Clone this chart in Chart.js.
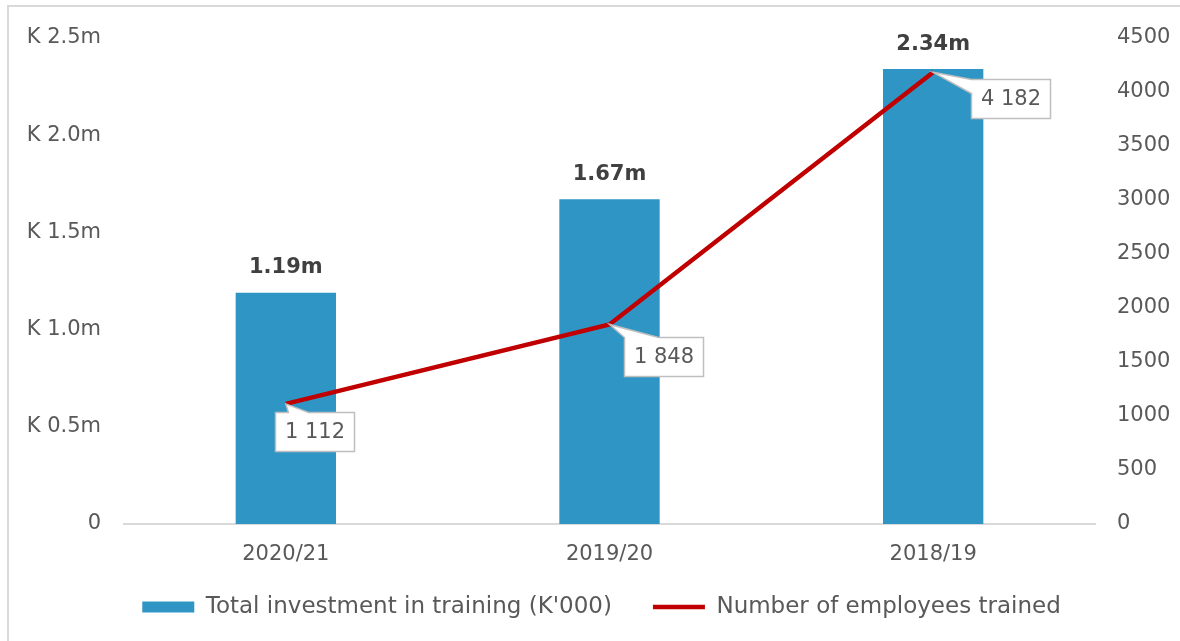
<!DOCTYPE html>
<html>
<head>
<meta charset="utf-8">
<title>Training investment</title>
<script src="https://cdn.jsdelivr.net/npm/chart.js@4.4.1/dist/chart.umd.min.js"></script>
<style>
  html, body { margin: 0; padding: 0; background: #fff; }
</style>
</head>
<body>
<canvas id="myChart" width="1180" height="641"></canvas>
<script>
// data
const years = ['2020/21', '2019/20', '2018/19'];
const investment = [1190, 1670, 2340];   // K'000
const trained = [1112, 1848, 4182];
const moneyTicks = ['0', 'K 0.5m', 'K 1.0m', 'K 1.5m', 'K 2.0m', 'K 2.5m'];

const FONT = "'DejaVu Sans', sans-serif";
const GREY = '#595959';

const fmtSpace = v => String(v).replace(/\B(?=(\d{3})+(?!\d))/g, ' ');

// outer frame (only left + top edges fall inside the canvas)
const framePlugin = {
    id: 'frame',
    beforeDraw(chart) {
        const ctx = chart.ctx;
        ctx.save();
        ctx.fillStyle = '#fff';
        ctx.fillRect(0, 0, chart.width, chart.height);
        ctx.fillStyle = '#d9d9d9';
        ctx.fillRect(7, 5, chart.width - 7, 2);
        ctx.fillRect(7, 5, 2, chart.height - 5);
        ctx.restore();
    }
};

// the wide label padding pushes legend items too low; lift the legend box a bit
const legendLift = {
    id: 'legendLift',
    afterLayout(chart, args, opts) {
        const lg = chart.legend;
        if (lg) {
            lg.top -= opts.by;
            lg.bottom -= opts.by;
        }
    }
};

// bold value labels over bars + callout boxes on the line
const labelPlugin = {
    id: 'labels',
    afterDatasetsDraw(chart, args, opts) {
        const ctx = chart.ctx;
        ctx.save();

        const bars = chart.getDatasetMeta(0).data;
        ctx.font = 'bold 21px ' + FONT;
        ctx.fillStyle = '#404040';
        ctx.textAlign = 'center';
        ctx.textBaseline = 'middle';
        bars.forEach((b, i) => {
            ctx.fillText((investment[i] / 1000).toFixed(2) + 'm', b.x, b.y - 25);
        });

        const pts = chart.getDatasetMeta(1).data;
        ctx.font = '21px ' + FONT;
        pts.forEach((p, i) => {
            const c = opts.callouts[i];
            const w = 79, h = 39;
            const l = Math.round(p.x + c.dx) + 0.5, t = Math.round(p.y + c.dy) + 0.5;
            const r = l + w, btm = t + h;
            ctx.beginPath();
            if (c.side === 'top') {
                ctx.moveTo(l, t);
                ctx.lineTo(l + c.a, t);
                ctx.lineTo(p.x, p.y);
                ctx.lineTo(l + c.b, t);
                ctx.lineTo(r, t);
                ctx.lineTo(r, btm);
                ctx.lineTo(l, btm);
            } else {
                ctx.moveTo(l, t + c.a);
                ctx.lineTo(p.x, p.y);
                ctx.lineTo(l + 0.01, t);
                ctx.lineTo(r, t);
                ctx.lineTo(r, btm);
                ctx.lineTo(l, btm);
                ctx.lineTo(l, t + c.b);
                ctx.lineTo(p.x, p.y);
            }
            ctx.closePath();
            ctx.fillStyle = '#fff';
            ctx.fill();
            ctx.strokeStyle = '#bfbfbf';
            ctx.lineWidth = 1.5;
            ctx.stroke();
            ctx.fillStyle = GREY;
            ctx.fillText(fmtSpace(trained[i]), l + w / 2, t + h / 2 + 1);
        });
        ctx.restore();
    }
};

const data = {
    labels: years,
    datasets: [
        {
            type: 'bar',
            label: "Total investment in training (K'000)",
            data: investment,
            backgroundColor: '#2e95c4',
            borderWidth: 0,
            yAxisID: 'y',
            order: 1,
            categoryPercentage: 1,
            barPercentage: 0.31,
            pointStyle: 'rect'
        },
        {
            type: 'line',
            label: 'Number of employees trained',
            data: trained,
            borderColor: '#c00000',
            backgroundColor: '#c00000',
            borderWidth: 4.5,
            pointRadius: 0,
            tension: 0,
            yAxisID: 'y1',
            order: 0,
            pointStyle: 'line'
        }
    ]
};

const config = {
    data: data,
    plugins: [framePlugin, legendLift, labelPlugin],
    options: {
        responsive: false,
        animation: false,
        layout: { padding: { top: 38, left: 23, right: 0, bottom: 0 } },
        plugins: {
            tooltip: { enabled: false },
            legend: {
                position: 'bottom',
                labels: {
                    usePointStyle: true,
                    pointStyleWidth: 52,
                    boxHeight: 11,
                    padding: 41,
                    color: GREY,
                    font: { family: FONT, size: 23 },
                    sort: (a, b) => a.datasetIndex - b.datasetIndex
                }
            },
            legendLift: { by: 12.5 },
            labels: {
                callouts: [
                    { dx: -11, dy: 8, side: 'top', a: 13, b: 33 },
                    { dx: 14, dy: 13, side: 'top', a: 0, b: 34 },
                    { dx: 38, dy: 7, side: 'left', a: 0, b: 14 }
                ]
            }
        },
        scales: {
            x: {
                grid: { display: false, drawTicks: false, tickLength: 0 },
                border: { display: true, color: '#d9d9d9', width: 2 },
                ticks: { color: GREY, padding: 18, font: { family: FONT, size: 21 } },
                afterFit(scale) { scale.height = 43; }
            },
            y: {
                position: 'left',
                min: 0,
                max: 2500,
                grid: { display: false, drawTicks: false, tickLength: 0 },
                border: { display: false },
                ticks: {
                    stepSize: 500,
                    padding: 23,
                    color: GREY,
                    font: { family: FONT, size: 21 },
                    callback: (v, i) => moneyTicks[i]
                },
                afterFit(scale) { scale.width = 101; }
            },
            y1: {
                position: 'right',
                min: 0,
                max: 4500,
                grid: { display: false, drawTicks: false, tickLength: 0 },
                border: { display: false },
                ticks: {
                    stepSize: 500,
                    padding: 22,
                    color: GREY,
                    font: { family: FONT, size: 21 },
                    callback: v => String(v)
                },
                afterFit(scale) { scale.width = 85; }
            }
        }
    }
};

const myChart = new Chart(document.getElementById('myChart'), config);
</script>
</body>
</html>
